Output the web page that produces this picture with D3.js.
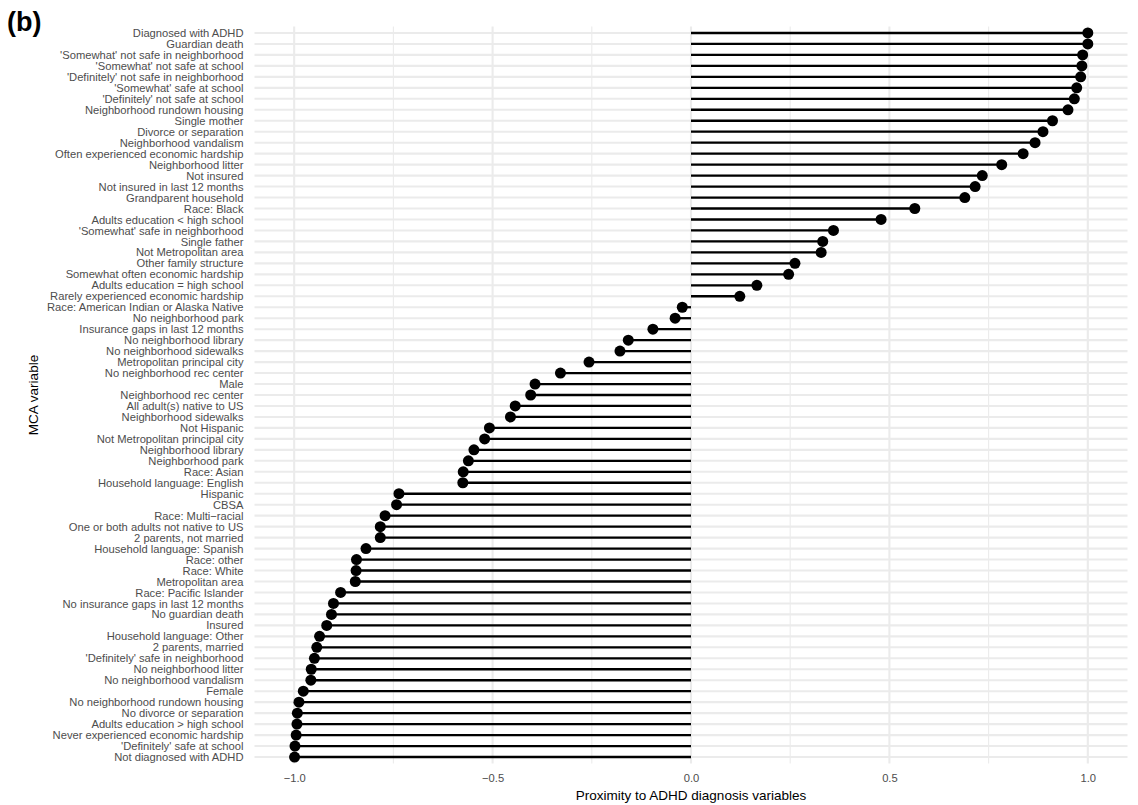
<!DOCTYPE html>
<html><head><meta charset="utf-8">
<script src="https://cdn.jsdelivr.net/npm/d3@7"></script>
<style>body{margin:0;background:#fff;} text{font-family:"Liberation Sans",Arial,sans-serif;}</style>
</head><body><svg id="c" width="1138" height="805"></svg>
<script>
const categories = [
"Diagnosed with ADHD","Guardian death","'Somewhat' not safe in neighborhood","'Somewhat' not safe at school",
"'Definitely' not safe in neighborhood","'Somewhat' safe at school","'Definitely' not safe at school",
"Neighborhood rundown housing","Single mother","Divorce or separation","Neighborhood vandalism",
"Often experienced economic hardship","Neighborhood litter","Not insured","Not insured in last 12 months",
"Grandparent household","Race: Black","Adults education < high school","'Somewhat' safe in neighborhood",
"Single father","Not Metropolitan area","Other family structure","Somewhat often economic hardship",
"Adults education = high school","Rarely experienced economic hardship","Race: American Indian or Alaska Native",
"No neighborhood park","Insurance gaps in last 12 months","No neighborhood library","No neighborhood sidewalks",
"Metropolitan principal city","No neighborhood rec center","Male","Neighborhood rec center",
"All adult(s) native to US","Neighborhood sidewalks","Not Hispanic","Not Metropolitan principal city",
"Neighborhood library","Neighborhood park","Race: Asian","Household language: English","Hispanic","CBSA",
"Race: Multi\u2212racial","One or both adults not native to US","2 parents, not married","Household language: Spanish",
"Race: other","Race: White","Metropolitan area","Race: Pacific Islander","No insurance gaps in last 12 months",
"No guardian death","Insured","Household language: Other","2 parents, married","'Definitely' safe in neighborhood",
"No neighborhood litter","No neighborhood vandalism","Female","No neighborhood rundown housing",
"No divorce or separation","Adults education > high school","Never experienced economic hardship",
"'Definitely' safe at school","Not diagnosed with ADHD"];
const values = [
1.0,1.0,0.987,0.985,0.982,0.972,0.966,0.950,0.911,0.887,0.867,0.837,0.783,0.734,0.716,0.690,0.564,0.479,0.359,
0.332,0.328,0.262,0.246,0.166,0.123,-0.022,-0.040,-0.096,-0.158,-0.179,-0.257,-0.329,-0.393,-0.404,-0.443,-0.455,
-0.508,-0.520,-0.547,-0.561,-0.574,-0.575,-0.736,-0.742,-0.771,-0.783,-0.783,-0.819,-0.843,-0.844,-0.846,-0.883,
-0.901,-0.906,-0.918,-0.936,-0.943,-0.949,-0.957,-0.958,-0.977,-0.988,-0.992,-0.993,-0.995,-0.998,-0.999];
const xTicks = [-1.0,-0.5,0.0,0.5,1.0];
const xMinor = [-0.75,-0.25,0.25,0.75];
const xTitle = "Proximity to ADHD diagnosis variables";
const yTitle = "MCA variable";
const panelTag = "(b)";

const svg = d3.select("#c");
const L = 254.5, R = 1127.5, T = 26.4, B = 763.6;
const x = d3.scaleLinear().domain([-1.1,1.1]).range([L,R]);
const n = categories.length;
const step = (B - T) / (n - 1 + 1.2);
const y = d3.scalePoint().domain(categories).range([T + 0.6*step, B - 0.6*step]);

const g = svg.append("g");
g.selectAll(".mn").data(xMinor).join("line")
 .attr("x1",d=>x(d)).attr("x2",d=>x(d)).attr("y1",T).attr("y2",B)
 .attr("stroke","#ebebeb").attr("stroke-width",1.1);
g.selectAll(".mj").data(xTicks).join("line")
 .attr("x1",d=>x(d)).attr("x2",d=>x(d)).attr("y1",T).attr("y2",B)
 .attr("stroke","#ebebeb").attr("stroke-width",2.1);
g.selectAll(".hg").data(categories).join("line")
 .attr("x1",L).attr("x2",R).attr("y1",d=>y(d)).attr("y2",d=>y(d))
 .attr("stroke","#ebebeb").attr("stroke-width",2.1);

const data = categories.map((c,i)=>({c,v:values[i]}));
g.selectAll(".seg").data(data).join("line")
 .attr("x1",x(0)).attr("x2",d=>x(d.v)).attr("y1",d=>y(d.c)).attr("y2",d=>y(d.c))
 .attr("stroke","#000").attr("stroke-width",2.3);
g.selectAll(".dot").data(data).join("circle")
 .attr("cx",d=>x(d.v)).attr("cy",d=>y(d.c)).attr("r",5.5).attr("fill","#000");

const ya = svg.append("g").attr("transform",`translate(${L},0)`)
 .call(d3.axisLeft(y).tickSize(0).tickPadding(11));
ya.select(".domain").remove();
ya.selectAll("text").attr("fill","#4d4d4d").style("font-size","11.2px")
 .style("font-family","'Liberation Sans',Arial,sans-serif");

const xa = svg.append("g").attr("transform",`translate(0,${B})`)
 .call(d3.axisBottom(x).tickValues(xTicks).tickSize(0).tickPadding(10).tickFormat(d3.format(".1f")));
xa.select(".domain").remove();
xa.selectAll("text").attr("fill","#4d4d4d").style("font-size","11.2px")
 .style("font-family","'Liberation Sans',Arial,sans-serif");

svg.append("text").attr("x",(L+R)/2).attr("y",800).attr("text-anchor","middle")
 .style("font-size","13.5px").attr("fill","#000").text(xTitle);
svg.append("text").attr("transform",`translate(38,${(T+B)/2}) rotate(-90)`).attr("text-anchor","middle")
 .style("font-size","13.5px").attr("fill","#000").text(yTitle);
svg.append("text").attr("x",7).attr("y",31).style("font-size","27px").style("font-weight","bold")
 .attr("fill","#000").text(panelTag);
</script></body></html>
